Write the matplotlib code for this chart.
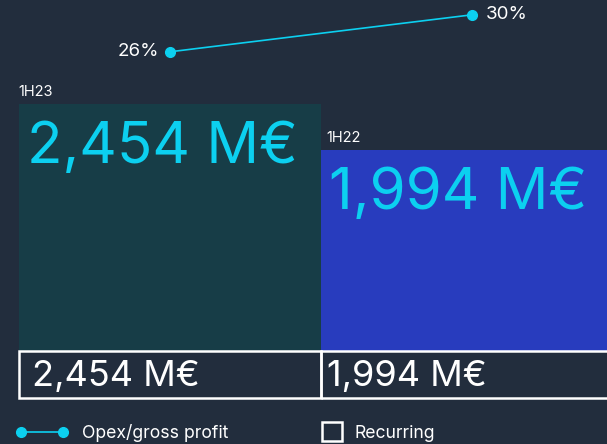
import matplotlib.pyplot as plt
from matplotlib.patches import Rectangle
from matplotlib.lines import Line2D

periods = ["1H23", "1H22"]
opex_mc = [2454, 1994]
opex_labels = ["2,454 M€", "1,994 M€"]
opex_gross_pct = [26, 30]
pct_labels = ["26%", "30%"]

bg = "#222d3d"
bar_colors = ["#173d47", "#283cbe"]
cyan = "#0cd0f0"

plt.rcParams["font.family"] = ["Inter", "DejaVu Sans"]

fig = plt.figure(figsize=(6.07, 4.44), dpi=100, facecolor=bg)
ax = fig.add_axes([0, 0, 1, 1])
ax.set_facecolor(bg)
ax.set_xlim(0, 607)
ax.set_ylim(0, 444)
ax.axis("off")

# bars sit on top of the "recurring" boxes
base = 444 - 351
scale = 247 / 2454
xs = [170, 472]
width = 302
ax.bar(xs, [v * scale for v in opex_mc], width=width, bottom=base,
       color=bar_colors, zorder=1)

for i, x in enumerate(xs):
    top = base + opex_mc[i] * scale
    ax.text(x - width / 2 - 1 + (6 if i else 0), top + 5, periods[i],
            color="white", fontsize=10.5, ha="left", va="bottom")
    ax.text(x - width / 2 + 8, top - 44, opex_labels[i], color=cyan,
            fontsize=42, fontweight="normal", ha="left", va="center")
    # recurring box
    ax.add_patch(Rectangle((x - width / 2, 444 - 398), width, 47,
                           fill=False, edgecolor="white", lw=1.8, zorder=3))
    ax.text(x - width / 2 + (13 if i == 0 else 6), 444 - 376, opex_labels[i],
            color="white", fontsize=26, ha="left", va="center")

# opex / gross profit line on its own scale
ax2 = ax.twinx()
ax2.set_ylim(-16.4, 31.6)
ax2.axis("off")
ax2.plot(xs, opex_gross_pct, color=cyan, lw=1.2, marker="o", ms=7)
ax2.annotate(pct_labels[0], (xs[0], opex_gross_pct[0]), xytext=(-8, 0),
             textcoords="offset points", color="white", fontsize=13.5,
             ha="right", va="center")
ax2.annotate(pct_labels[1], (xs[1], opex_gross_pct[1]), xytext=(10, 0),
             textcoords="offset points", color="white", fontsize=13.5,
             ha="left", va="center")

# legend
ax.add_line(Line2D([21, 63], [12, 12], color=cyan, lw=1.2, marker="o", ms=7))
ax.text(82, 11, "Opex/gross profit", color="white", fontsize=12.7,
        ha="left", va="center")
ax.add_patch(Rectangle((322, 3), 20, 19, fill=False, edgecolor="white", lw=1.8))
ax.text(355, 11, "Recurring", color="white", fontsize=12.7,
        ha="left", va="center")

fig.savefig("out.png", dpi=100, facecolor=bg)
